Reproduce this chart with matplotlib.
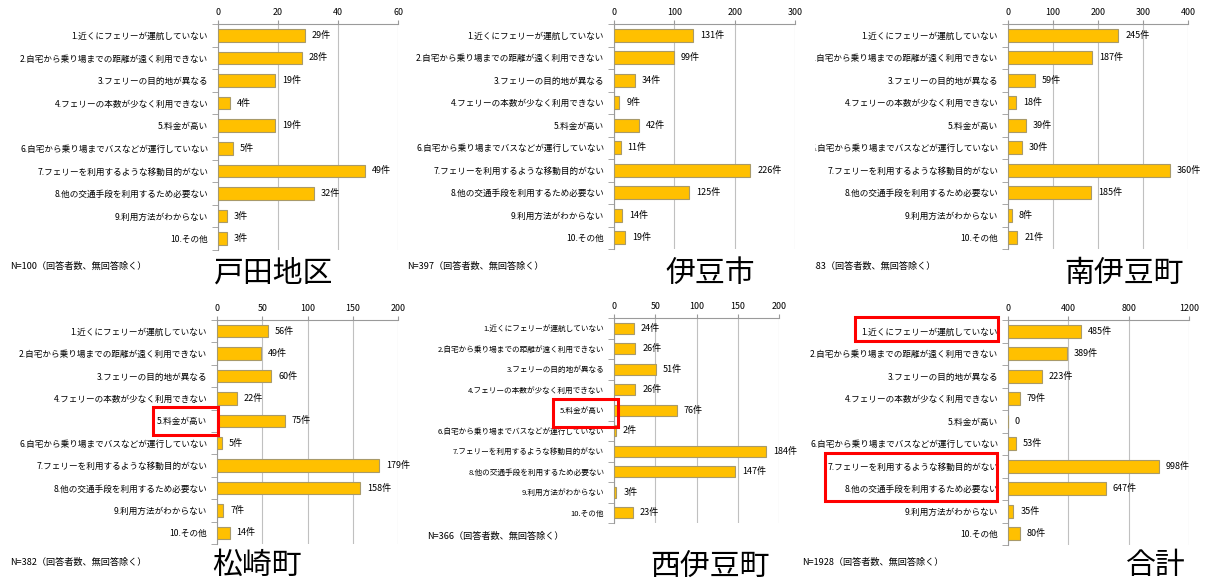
import matplotlib
matplotlib.use('Agg')
import matplotlib.pyplot as plt
from matplotlib.patches import Rectangle
from matplotlib.transforms import Bbox

plt.rcParams['font.family'] = ['Noto Sans CJK JP', 'DejaVu Sans']

# survey answers (same order in every panel)
categories = ['1.近くにフェリーが運航していない',
              '2.自宅から乗り場までの距離が遠く利用できない',
              '3.フェリーの目的地が異なる',
              '4.フェリーの本数が少なく利用できない',
              '5.料金が高い',
              '6.自宅から乗り場までバスなどが運行していない',
              '7.フェリーを利用するような移動目的がない',
              '8.他の交通手段を利用するため必要ない',
              '9.利用方法がわからない',
              '10.その他']

toda = [29, 28, 19, 4, 19, 5, 49, 32, 3, 3]
izu = [131, 99, 34, 9, 42, 11, 226, 125, 14, 19]
minamiizu = [245, 187, 59, 18, 39, 30, 360, 185, 8, 21]
matsuzaki = [56, 49, 60, 22, 75, 5, 179, 158, 7, 14]
nishiizu = [24, 26, 51, 26, 76, 2, 184, 147, 3, 23]
total = [485, 389, 223, 79, 0, 53, 998, 647, 35, 80]

titles = ['戸田地区', '伊豆市', '南伊豆町', '松崎町', '西伊豆町', '合計']
n_counts = [100, 397, 383, 382, 366, 1928]
x_ticks = [[0, 20, 40, 60], [0, 100, 200, 300], [0, 100, 200, 300, 400],
           [0, 50, 100, 150, 200], [0, 50, 100, 150, 200], [0, 400, 800, 1200]]

W, H = 1205, 585
BAR = '#FFC000'
EDGE = '#a89a6a'
GRID = '#c0c0c0'
AXC = '#9a9a9a'


def px_rect(x0, x1, ytop, ybot):
    return [x0 / W, 1 - ybot / H, (x1 - x0) / W, (ybot - ytop) / H]


def draw_panel(ax, values, ticks, lab_size):
    y = list(range(len(categories)))
    ax.barh(y, values, height=0.56, color=BAR, edgecolor=EDGE, linewidth=0.8, zorder=3)
    ax.set_ylim(len(categories) - 0.5, -0.5)
    ax.set_xlim(ticks[0], ticks[-1])
    ax.set_xticks(ticks)
    ax.xaxis.tick_top()
    ax.tick_params(axis='x', length=3, color=AXC, labelsize=6.4, pad=2)
    ax.set_yticks(y)
    ax.set_yticklabels(categories)
    ax.set_yticks([i - 0.5 for i in range(len(categories) + 1)], minor=True)
    ax.tick_params(axis='y', which='major', length=0, labelsize=lab_size, pad=7)
    ax.tick_params(axis='y', which='minor', length=4, color=AXC)
    ax.grid(axis='x', color=GRID, linewidth=0.8, zorder=0)
    for s in ['right', 'bottom']:
        ax.spines[s].set_visible(False)
    for s in ['top', 'left']:
        ax.spines[s].set_color(AXC)
        ax.spines[s].set_linewidth(0.8)
    for i, v in enumerate(values):
        txt = f'{v}件' if v > 0 else '0'
        ax.annotate(txt, (v, i), xytext=(5, 0), textcoords='offset points',
                    va='center', ha='left', fontsize=6.5, zorder=4)


fig = plt.figure(figsize=(W / 100, H / 100), dpi=100)

boxes = [(218, 398, 24, 250), (614, 795, 24, 249), (1008, 1188, 24, 249),
         (217, 398, 320, 544), (614, 779, 318, 523), (1008, 1189, 320, 545)]
series = [toda, izu, minamiizu, matsuzaki, nishiizu, total]
lab_sizes = [6.2, 6.2, 6.2, 6.2, 5.5, 6.2]
n_pos = [(10, 266), (407, 266), (799, 266), (10, 562), (427, 536), (802, 562)]
title_pos = [(273, 273), (710, 273), (1124, 273), (257, 565), (710, 566), (1156, 565)]

axes = []
for k in range(6):
    ax = fig.add_axes(px_rect(*boxes[k]))
    draw_panel(ax, series[k], x_ticks[k], lab_sizes[k])
    axes.append(ax)
    fig.text(n_pos[k][0] / W, 1 - n_pos[k][1] / H,
             f'N={n_counts[k]}（回答者数、無回答除く）',
             fontsize=6.6, va='center', ha='left')
    fig.text(title_pos[k][0] / W, 1 - title_pos[k][1] / H, titles[k],
             fontsize=21.5, va='center', ha='center')

# the right-hand top panel hides what runs past its left edge
clip = Bbox.from_extents(815, 0, W, H)
for t in axes[2].get_yticklabels():
    t.set_clip_box(clip)
    t.set_clip_on(True)
for t in fig.texts:
    if t.get_text().startswith('N=383'):
        t.set_clip_box(clip)
        t.set_clip_on(True)

# red highlight boxes
for (x0, x1, y0, y1) in [(153, 218, 407, 435), (553, 618, 399, 427),
                         (855, 998, 317, 341), (825, 997, 453, 501)]:
    fig.add_artist(Rectangle((x0 / W, 1 - y1 / H), (x1 - x0) / W, (y1 - y0) / H,
                             transform=fig.transFigure, fill=False,
                             edgecolor='#ff0000', linewidth=2.2, zorder=10))

fig.savefig('out.png', dpi=100)
